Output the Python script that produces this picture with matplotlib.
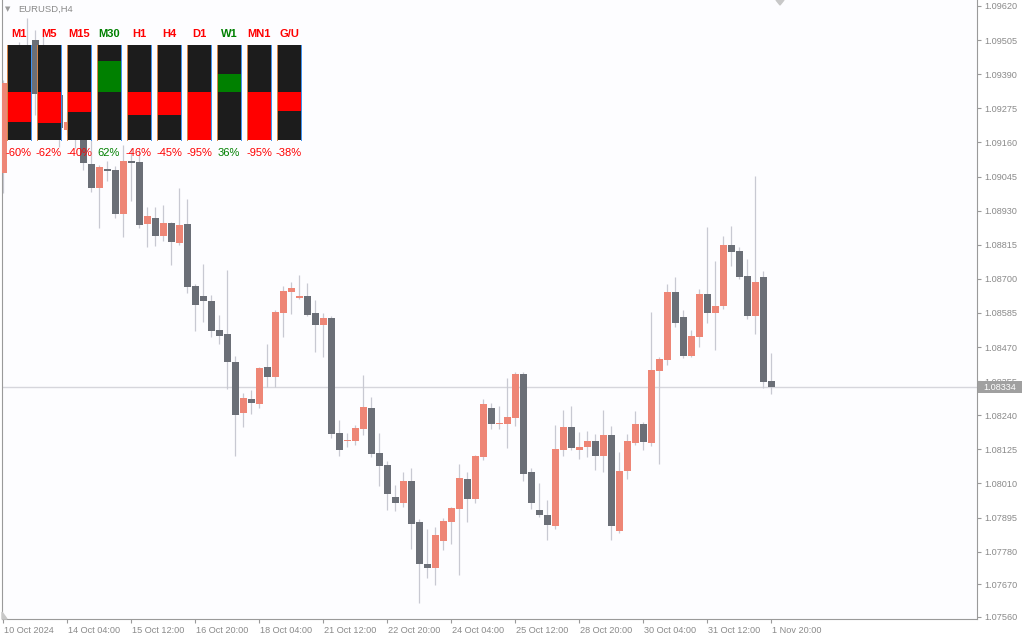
import matplotlib
matplotlib.use("Agg")
import matplotlib.pyplot as plt
import matplotlib.transforms as mtransforms
from matplotlib.patches import Rectangle

# EURUSD H4 bars, 10 Oct 2024 20:00 .. 1 Nov 2024 20:00
opens = [1.09057, 1.09360, 1.09421, 1.09472, 1.09505, 1.09323, 1.09370, 1.09320, 1.09202, 1.09229,
         1.09202, 1.09087, 1.09006, 1.09070, 1.09067, 1.08919, 1.09097, 1.09094, 1.08885, 1.08905,
         1.08844, 1.08888, 1.08821, 1.08885, 1.08676, 1.08642, 1.08625, 1.08527, 1.08514, 1.08420,
         1.08248, 1.08295, 1.08278, 1.08403, 1.08369, 1.08585, 1.08656, 1.08635, 1.08642, 1.08585,
         1.08544, 1.08568, 1.08180, 1.08153, 1.08153, 1.08194, 1.08264, 1.08113, 1.08072, 1.07964,
         1.07944, 1.08018, 1.07880, 1.07738, 1.07725, 1.07816, 1.07880, 1.07924, 1.08025, 1.07958,
         1.08099, 1.08264, 1.08210, 1.08210, 1.08231, 1.08379, 1.08049, 1.07920, 1.07904, 1.07867,
         1.08123, 1.08200, 1.08123, 1.08133, 1.08153, 1.08103, 1.08173, 1.07850, 1.08052, 1.08146,
         1.08210, 1.08146, 1.08389, 1.08426, 1.08656, 1.08571, 1.08440, 1.08504, 1.08649, 1.08585,
         1.08608, 1.08814, 1.08794, 1.08710, 1.08575, 1.08706, 1.08356]
highs = [1.09370, 1.09455, 1.09499, 1.09580, 1.09539, 1.09529, 1.09387, 1.09337, 1.09262, 1.09242,
         1.09219, 1.09168, 1.09084, 1.09097, 1.09080, 1.09151, 1.09141, 1.09141, 1.08942, 1.08942,
         1.08949, 1.08892, 1.09006, 1.08969, 1.08683, 1.08750, 1.08645, 1.08578, 1.08730, 1.08440,
         1.08315, 1.08325, 1.08403, 1.08480, 1.08595, 1.08676, 1.08689, 1.08713, 1.08686, 1.08629,
         1.08585, 1.08575, 1.08224, 1.08180, 1.08207, 1.08376, 1.08302, 1.08180, 1.08086, 1.08005,
         1.08049, 1.08062, 1.07890, 1.07856, 1.07863, 1.07893, 1.07931, 1.08076, 1.08049, 1.08106,
         1.08295, 1.08281, 1.08271, 1.08366, 1.08386, 1.08386, 1.08062, 1.08012, 1.07954, 1.08207,
         1.08258, 1.08271, 1.08183, 1.08187, 1.08177, 1.08258, 1.08204, 1.08116, 1.08177, 1.08254,
         1.08217, 1.08588, 1.08436, 1.08683, 1.08706, 1.08595, 1.08527, 1.08666, 1.08875, 1.08760,
         1.08844, 1.08878, 1.08807, 1.08767, 1.09047, 1.08726, 1.08450]
lows = [1.08989, 1.09320, 1.09387, 1.09438, 1.09252, 1.09286, 1.09303, 1.09145, 1.09185, 1.09141,
        1.09067, 1.08993, 1.08871, 1.09030, 1.08905, 1.08841, 1.08962, 1.08871, 1.08807, 1.08811,
        1.08828, 1.08747, 1.08814, 1.08652, 1.08524, 1.08554, 1.08504, 1.08480, 1.08328, 1.08103,
        1.08200, 1.08244, 1.08264, 1.08335, 1.08335, 1.08504, 1.08581, 1.08632, 1.08575, 1.08453,
        1.08436, 1.08163, 1.08103, 1.08133, 1.08140, 1.08173, 1.08099, 1.08001, 1.07920, 1.07917,
        1.07931, 1.07789, 1.07607, 1.07691, 1.07668, 1.07786, 1.07806, 1.07701, 1.07880, 1.07944,
        1.08089, 1.08194, 1.08194, 1.08130, 1.08204, 1.08018, 1.07924, 1.07897, 1.07819, 1.07856,
        1.08103, 1.08123, 1.08092, 1.08099, 1.08055, 1.08049, 1.07819, 1.07843, 1.08025, 1.08140,
        1.08123, 1.08136, 1.08076, 1.08409, 1.08538, 1.08433, 1.08436, 1.08470, 1.08551, 1.08460,
        1.08598, 1.08743, 1.08699, 1.08565, 1.08514, 1.08332, 1.08312]
closes = [1.09360, 1.09421, 1.09472, 1.09482, 1.09323, 1.09370, 1.09320, 1.09209, 1.09229, 1.09202,
          1.09091, 1.09006, 1.09077, 1.09064, 1.08919, 1.09097, 1.09091, 1.08882, 1.08912, 1.08844,
          1.08888, 1.08824, 1.08882, 1.08672, 1.08612, 1.08625, 1.08524, 1.08507, 1.08420, 1.08241,
          1.08298, 1.08281, 1.08399, 1.08369, 1.08588, 1.08659, 1.08669, 1.08642, 1.08578, 1.08544,
          1.08568, 1.08177, 1.08123, 1.08157, 1.08197, 1.08268, 1.08109, 1.08069, 1.07974, 1.07944,
          1.08018, 1.07873, 1.07738, 1.07725, 1.07836, 1.07883, 1.07927, 1.08028, 1.07958, 1.08103,
          1.08278, 1.08210, 1.08214, 1.08234, 1.08379, 1.08042, 1.07944, 1.07904, 1.07870, 1.08126,
          1.08200, 1.08130, 1.08133, 1.08153, 1.08103, 1.08173, 1.07867, 1.08052, 1.08153, 1.08210,
          1.08150, 1.08393, 1.08430, 1.08656, 1.08551, 1.08440, 1.08507, 1.08649, 1.08585, 1.08608,
          1.08814, 1.08790, 1.08706, 1.08575, 1.08689, 1.08352, 1.08334]

xtick_bars = [0, 8, 16, 24, 32, 40, 48, 56, 64, 72, 80, 88, 96]
xtick_labels = ["10 Oct 2024", "14 Oct 04:00", "15 Oct 12:00", "16 Oct 20:00", "18 Oct 04:00",
                "21 Oct 12:00", "22 Oct 20:00", "24 Oct 04:00", "25 Oct 12:00", "28 Oct 20:00",
                "30 Oct 04:00", "31 Oct 12:00", "1 Nov 20:00"]
yticks = [1.09620, 1.09505, 1.09390, 1.09275, 1.09160, 1.09045, 1.08930, 1.08815, 1.08700,
          1.08585, 1.08470, 1.08355, 1.08240, 1.08125, 1.08010, 1.07895, 1.07780, 1.07670, 1.07560]
last_price = 1.08334

# currency strength panel
tf_labels = ["M1", "M5", "M15", "M30", "H1", "H4", "D1", "W1", "MN1", "G/U"]
tf_strength = [-60, -62, -40, 62, -46, -45, -95, 36, -95, -38]

BULL = "#ee8676"
BEAR = "#6b6f77"
WICK = "#c8c9d2"
AXC = "#9a9a9a"
TXT = "#8a8a8a"
FONT = "Liberation Sans"

fig = plt.figure(figsize=(10.24, 6.4), dpi=100)
fig.patch.set_facecolor("white")
ax = fig.add_axes([2 / 1024, 21 / 640, 975 / 1024, 619 / 640])
ax.set_facecolor("#fdfdff")

n = len(opens)
idx = list(range(n))
ax.vlines(idx, lows, highs, color=WICK, linewidth=0.9, zorder=2)
bottoms = [min(o, c) for o, c in zip(opens, closes)]
heights = [max(abs(c - o), 0.00004) for o, c in zip(opens, closes)]
colors = [BULL if c > o else BEAR for o, c in zip(opens, closes)]
ax.bar(idx, heights, bottom=bottoms, width=0.875, color=colors, linewidth=0, zorder=3)

ax.axhline(last_price, color="#d6d6dc", linewidth=1, zorder=1)

ax.set_xlim(-0.1875, 121.69)
ax.set_ylim(1.07553, 1.096402)

ax.yaxis.tick_right()
ax.set_yticks(yticks)
ax.set_yticklabels([f"{v:.5f}" for v in yticks])
ax.set_xticks(xtick_bars)
ax.set_xticklabels(xtick_labels)
ax.tick_params(axis="both", direction="out", length=3, width=0.8, color=AXC,
               labelcolor=TXT, labelsize=6.6, pad=2)
for lab in ax.get_xticklabels():
    lab.set_horizontalalignment("left")
    lab.set_fontfamily(FONT)
    lab.set_transform(lab.get_transform() + mtransforms.ScaledTranslation(1 / 100, 0, fig.dpi_scale_trans))
for lab in ax.get_yticklabels():
    lab.set_fontfamily(FONT)

for side in ["left", "right", "bottom"]:
    ax.spines[side].set_color(AXC)
    ax.spines[side].set_linewidth(0.8)
ax.spines["top"].set_visible(False)

# overlay in pixel coordinates for the indicator panel and labels
ov = fig.add_axes([0, 0, 1, 1], zorder=5)
ov.set_xlim(0, 1024)
ov.set_ylim(640, 0)
ov.axis("off")
ov.patch.set_alpha(0)

ov.text(5, 9, "\u25bc", fontsize=5, color="#9a9a9a", va="center", ha="left")
ov.text(18, 9.5, "EURUSD,H4", fontsize=6.8, color=TXT, va="center", ha="left", family=FONT)
ov.fill([776, 784, 780], [0, 0, 5], color="#c8c8c8")
ov.fill([2, 7, 2], [612, 619, 619], color="#c8c8c8")

# current price tag
ov.add_patch(Rectangle((978, 381), 44, 12, facecolor="#a0a0a0", edgecolor="none"))
ov.text(983, 387.5, f"{last_price:.5f}", color="white", fontsize=6.6, va="center", ha="left", family=FONT)

box_top, box_bot, mid = 45, 140, 92
for i, (lab, s) in enumerate(zip(tf_labels, tf_strength)):
    x0 = 7.3 + 30 * i
    col = "#ff0000" if s < 0 else "#008000"
    ov.add_patch(Rectangle((x0, box_top), 23.4, box_bot - box_top, facecolor="#1c1c1c", edgecolor="none"))
    h = abs(s) / 100 * 50
    if s < 0:
        y0, y1 = mid, min(mid + h, box_bot)
    else:
        y0, y1 = max(mid - h, box_top), mid
    ov.add_patch(Rectangle((x0, y0), 23.4, y1 - y0, facecolor=col, edgecolor="none"))
    ov.plot([x0, x0], [box_top, box_bot], color="#d9884a", linewidth=0.7)
    ov.plot([x0 + 23.4, x0 + 23.4], [box_top, box_bot], color="#3a8ff0", linewidth=0.7)
    ov.text(x0 + 11.7, 34, lab, color=col, fontsize=8, fontweight="bold", ha="center", va="center", family=FONT)
    ov.text(x0 + 11.7, 153, f"{s}%", color=col, fontsize=8, ha="center", va="center", family=FONT)

fig.savefig("out.png", dpi=100, facecolor="white")
